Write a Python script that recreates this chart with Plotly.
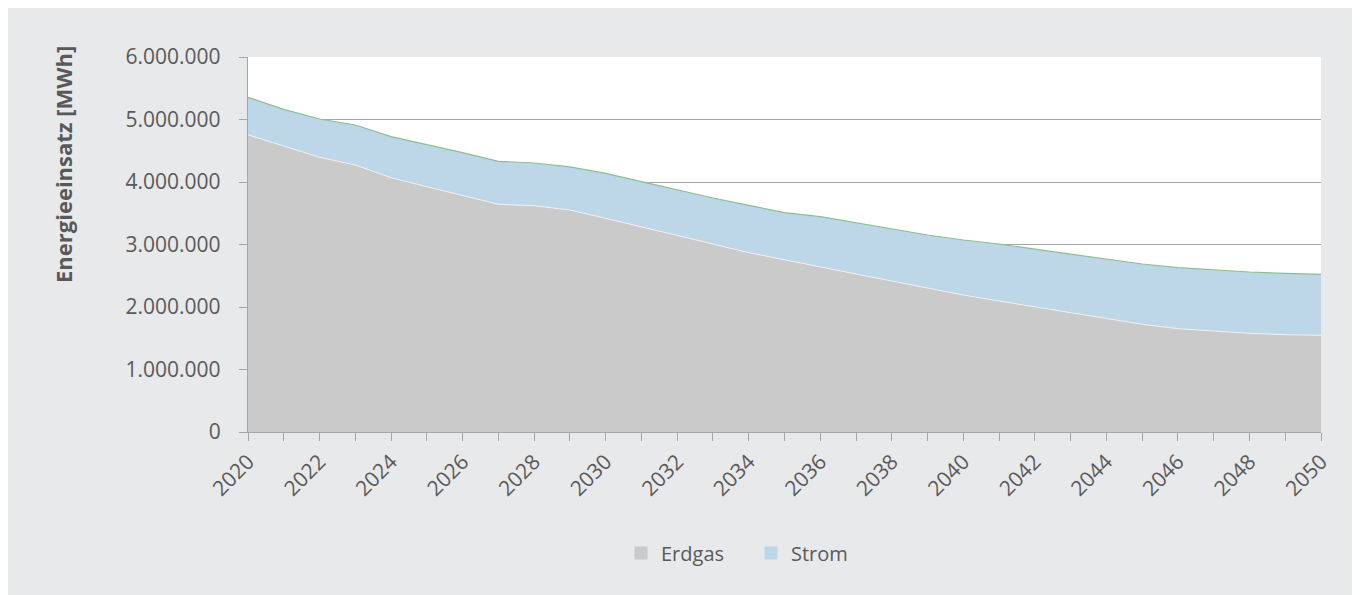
import plotly.graph_objects as go

# Jahre und Energieeinsatz je Energieträger [MWh]
jahre = list(range(2020, 2051))

erdgas = [4755000, 4576000, 4395000, 4272000, 4069000, 3925000, 3781000, 3643000,
          3621000, 3552000, 3419000, 3285000, 3147000, 3008000, 2869000, 2752000,
          2645000, 2528000, 2416000, 2299000, 2192000, 2096000, 2005000, 1915000,
          1819000, 1723000, 1653000, 1616000, 1579000, 1557000, 1547000]

strom = [600000, 587000, 613000, 640000, 656000, 678000, 688000, 688000,
         683000, 690000, 720000, 720000, 725000, 736000, 758000, 757000,
         800000, 821000, 832000, 853000, 880000, 912000, 920000, 928000,
         944000, 965000, 976000, 976000, 981000, 982000, 976000]

W, H = 1360, 595
L, R, T, B = 240, 47, 49, 171
pw, ph = W - L - R, H - T - B

def px_x(x):
    return (x - L) / pw

def px_y(y):
    return (H - B - y) / ph

grau = "#595959"
bg = "#e8e9eb"
farbe_gas = "#c9cac9"
farbe_strom = "#bdd7e9"

fig = go.Figure()
fig.add_trace(go.Scatter(x=jahre, y=erdgas, name="Erdgas", stackgroup="a",
                         mode="lines", line=dict(color="#eef0f0", width=1),
                         fillcolor=farbe_gas, showlegend=False))
fig.add_trace(go.Scatter(x=jahre, y=strom, name="Strom", stackgroup="a",
                         mode="lines", line=dict(color="#8dbf8d", width=1.2),
                         fillcolor=farbe_strom, showlegend=False))

# Legendeneinträge als Quadrate
for name, farbe in [("Erdgas", farbe_gas), ("Strom", farbe_strom)]:
    fig.add_trace(go.Scatter(x=[None], y=[None], name=name, mode="markers",
                             marker=dict(symbol="square", size=13, color=farbe)))

fig.add_annotation(text="<b>Energieeinsatz [MWh]</b>", xref="paper", yref="paper",
                   x=px_x(55), y=px_y(157), xanchor="center", yanchor="middle",
                   textangle=-90, showarrow=False,
                   font=dict(size=22, color=grau, family="Open Sans"))

fig.update_layout(
    width=W, height=H,
    margin=dict(l=L, r=R, t=T, b=B),
    paper_bgcolor=bg, plot_bgcolor="white",
    font=dict(family="Open Sans", size=21, color=grau),
    separators=",.",
    showlegend=True,
    legend=dict(orientation="h", x=px_x(613), xanchor="left", y=px_y(545), yanchor="middle",
                font=dict(size=20, color=grau), bgcolor="rgba(0,0,0,0)",
                traceorder="normal", itemwidth=30, entrywidth=85),
    xaxis=dict(range=[2020, 2050], dtick=2, tick0=2020, tickangle=-45,
               ticks="outside", ticklen=8, tickcolor="#a6a6a6", tickwidth=1.3,
               minor=dict(dtick=1, ticks="outside", ticklen=8, tickcolor="#a6a6a6", tickwidth=1.3),
               showgrid=False, showline=True, linecolor="#a6a6a6", linewidth=1.3,
               zeroline=False, tickfont=dict(size=21, color=grau)),
    yaxis=dict(range=[0, 6000000], dtick=1000000, tickformat=",d",
               ticks="outside", ticklen=8, tickcolor="#a6a6a6", tickwidth=1.3,
               showgrid=True, gridcolor="#a6a6a6", gridwidth=1.3,
               showline=True, linecolor="#a6a6a6", linewidth=1.3,
               zeroline=False, ticklabelstandoff=14, tickfont=dict(size=21, color=grau)),
)

fig.write_html("out.html")
